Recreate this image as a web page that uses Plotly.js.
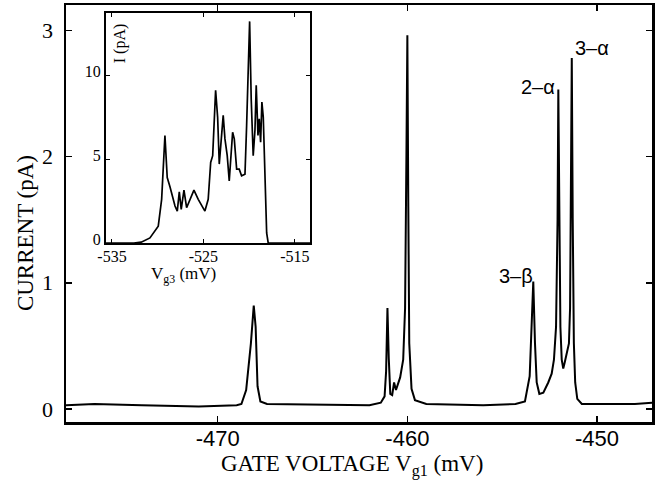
<!DOCTYPE html>
<html>
<head>
<meta charset="utf-8">
<script src="https://cdn.plot.ly/plotly-3.0.1.min.js"></script>
<style>html,body{margin:0;padding:0;background:#fff;}#chart{width:659px;height:482px;}</style>
</head>
<body>
<div id="chart"></div>
<script>
// ---- main trace: gate voltage Vg1 (mV) vs current (pA)
const vg1 = [-478.0,-476.5,-474.0,-471.0,-469.0,-468.75,-468.5,-468.4,-468.25,-468.1,-468.0,-467.9,-467.75,-467.4,
  -464.0,-462.0,-461.4,-461.2,-461.12,-461.05,-460.98,-460.9,-460.8,-460.7,-460.6,-460.5,-460.38,-460.22,-460.12,
  -460.05,-460.0,-459.95,-459.9,-459.78,-459.6,-459.0,-456.0,-454.3,-453.8,-453.55,-453.45,-453.36,-453.27,-453.18,
  -453.04,-452.83,-452.57,-452.39,-452.27,-452.16,-452.08,-452.04,-451.98,-451.93,-451.86,-451.78,-451.7,-451.57,
  -451.48,-451.42,-451.37,-451.33,-451.28,-451.22,-451.15,-451.04,-450.8,-448.0,-447.1];
const current = [0.03,0.04,0.03,0.02,0.03,0.04,0.15,0.29,0.52,0.82,0.65,0.18,0.06,0.04,
  0.03,0.03,0.05,0.1,0.3,0.8,0.4,0.12,0.11,0.21,0.15,0.19,0.25,0.39,0.8,
  2.0,2.96,1.6,0.52,0.16,0.07,0.04,0.03,0.04,0.06,0.26,0.65,1.01,0.52,0.21,
  0.12,0.13,0.21,0.28,0.39,0.65,1.5,2.53,1.5,0.65,0.39,0.32,0.37,0.45,
  0.52,0.8,1.8,2.78,1.5,0.52,0.21,0.08,0.04,0.04,0.05];

// ---- inset trace: Vg3 (mV) vs I (pA)
const vg3 = [-535.65,-532.6,-531.8,-530.85,-529.94,-529.57,-529.21,-528.96,-528.66,-528.11,-527.86,-527.64,-527.43,
  -527.13,-526.84,-526.55,-526.04,-525.57,-524.84,-524.48,-524.21,-523.99,-523.67,-523.45,-523.27,-522.84,-522.65,
  -522.40,-522.18,-521.81,-521.63,-521.37,-521.09,-520.83,-520.46,-520.28,-520.10,-519.95,-519.78,-519.56,-519.37,
  -519.23,-519.04,-518.90,-518.75,-518.61,-518.46,-518.28,-518.09,-517.92,-513.35];
const iInset = [0,0,0.05,0.3,1.0,2.6,6.4,3.9,3.35,2.2,1.9,3.05,2.0,
  3.15,2.1,2.5,3.15,2.6,1.9,2.6,4.8,5.2,9.1,7.5,4.7,7.6,6.2,
  5.2,3.7,6.6,6.2,4.4,4.4,4.0,4.1,7.0,10.5,13.2,8.6,5.2,6.7,
  9.4,6.4,7.4,6.0,8.4,7.5,3.3,0.6,0,0];

// ---- ticks and labels
const mainXTicks = [-470,-460,-450];
const mainXLabels = ["-470","-460","-450"];
const mainYTicks = [0,1,2,3];
const insetXTicks = [-535,-525,-515];
const insetXLabels = ["-535","-525","-515"];
const insetYTicks = [0,5,10];
const peakLabels = ["3\u2013\u03b1","2\u2013\u03b1","3\u2013\u03b2"];
const peakLabelX = [-450.26,-453.11,-454.27];
const peakLabelY = [2.86,2.55,1.05];
const xTitle = "GATE VOLTAGE V<sub>g1</sub> (mV)";
const yTitle = "CURRENT (pA)";
const insetXTitle = "V<sub>g3</sub> (mV)";
const insetYTitle = "I (pA)";

const serif = "Liberation Serif, Times New Roman, serif";
const sans = "Liberation Sans, Arial, sans-serif";

const traces = [
  {x: vg1, y: current, type: 'scatter', mode: 'lines', xaxis: 'x', yaxis: 'y',
   line: {color: '#000', width: 2}, hoverinfo: 'skip', showlegend: false},
  {x: vg3, y: iInset, type: 'scatter', mode: 'lines', xaxis: 'x2', yaxis: 'y2',
   line: {color: '#000', width: 1.7}, hoverinfo: 'skip', showlegend: false}
];

const annotations = peakLabels.map((t, i) => ({
  text: t, x: peakLabelX[i], y: peakLabelY[i], xref: 'x', yref: 'y',
  showarrow: false, font: {family: sans, size: 20, color: '#000'}
}));
annotations.push({
  text: insetYTitle, textangle: -90, xref: 'x2 domain', yref: 'y2 domain',
  x: 0.07, y: 0.87, xanchor: 'center', yanchor: 'middle', showarrow: false,
  font: {family: serif, size: 16, color: '#000'}
});
annotations.push({
  text: insetXTitle, xref: 'x2 domain', yref: 'y2 domain',
  x: 0.38, y: -0.14, xanchor: 'center', yanchor: 'middle', showarrow: false,
  font: {family: serif, size: 17, color: '#000'}
});
annotations.push({
  text: yTitle, textangle: -90, xref: 'paper', yref: 'paper',
  x: -0.07, y: 0.453, xanchor: 'center', yanchor: 'middle', showarrow: false,
  font: {family: serif, size: 23, color: '#000'}
});
annotations.push({
  text: xTitle, xref: 'paper', yref: 'paper',
  x: 0.488, y: -0.105, xanchor: 'center', yanchor: 'middle', showarrow: false,
  font: {family: serif, size: 23, color: '#000'}
});

const layout = {
  width: 659, height: 482,
  margin: {l: 66, r: 7, t: 5, b: 60},
  paper_bgcolor: '#fff', plot_bgcolor: '#fff',
  showlegend: false,
  xaxis: {
    domain: [0, 1], range: [-478, -447.1], anchor: 'y',
    showline: true, linewidth: 2.5, linecolor: '#000', mirror: 'ticks',
    ticks: 'inside', ticklen: 6, tickwidth: 1.5, tickcolor: '#000',
    tickvals: mainXTicks, ticktext: mainXLabels, ticklabelstandoff: -5,
    showgrid: false, zeroline: false,
    tickfont: {family: sans, size: 22, color: '#000'}
  },
  yaxis: {
    domain: [0, 1], range: [-0.103, 3.2], anchor: 'x',
    showline: true, linewidth: 2.5, linecolor: '#000', mirror: 'ticks',
    ticks: 'inside', ticklen: 6, tickwidth: 1.5, tickcolor: '#000',
    tickvals: mainYTicks, ticklabelstandoff: 6,
    showgrid: false, zeroline: false,
    tickfont: {family: serif, size: 22, color: '#000'}
  },
  xaxis2: {
    domain: [0.0683, 0.4164], range: [-535.65, -513.35], anchor: 'y2',
    showline: true, linewidth: 2, linecolor: '#000', mirror: 'ticks',
    ticks: 'inside', ticklen: 4, tickwidth: 1, tickcolor: '#000',
    tickvals: insetXTicks, ticktext: insetXLabels, ticklabelstandoff: -2,
    showgrid: false, zeroline: false,
    tickfont: {family: serif, size: 16, color: '#000'}
  },
  yaxis2: {
    domain: [0.4293, 0.9808], range: [0, 13.7], anchor: 'x2',
    showline: true, linewidth: 2, linecolor: '#000', mirror: 'ticks',
    ticks: 'inside', ticklen: 4, tickwidth: 1, tickcolor: '#000',
    tickvals: insetYTicks, ticklabelstandoff: 0, ticklabelshift: -4,
    showgrid: false, zeroline: false,
    tickfont: {family: serif, size: 16, color: '#000'}
  },
  annotations: annotations
};

Plotly.newPlot('chart', traces, layout, {staticPlot: true, displayModeBar: false});
</script>
</body>
</html>
